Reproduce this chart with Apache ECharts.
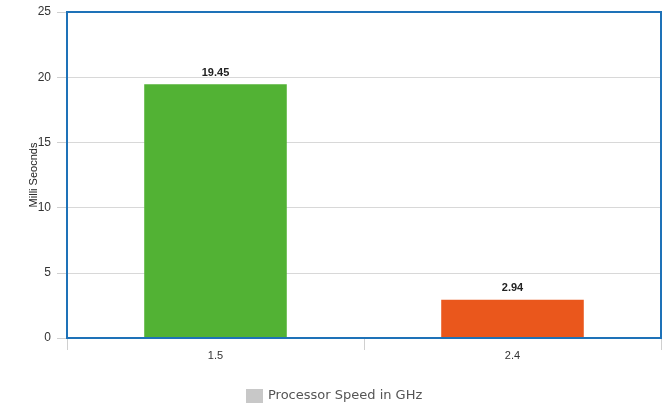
<!DOCTYPE html>
<html>
<head>
<meta charset="utf-8">
<script src="https://cdn.jsdelivr.net/npm/echarts@6/dist/echarts.min.js"></script>
<style>
  html, body { margin: 0; padding: 0; background: #fff; }
  #chart { width: 670px; height: 404px; }
</style>
</head>
<body>
<div id="chart"></div>
<script>
// Processor speed categories and measured times
const categories = ['1.5', '2.4'];
const timesMs = [19.45, 2.94];
const barColors = ['#52b234', '#ea571c'];
const seriesName = 'Processor Speed in GHz';
const yTicks = { min: 0, max: 25, interval: 5 };

const chart = echarts.init(document.getElementById('chart'), null, { renderer: 'canvas' });

chart.setOption({
  animation: false,
  textStyle: { fontFamily: 'Liberation Sans, Arial, sans-serif' },
  grid: {
    left: 67, right: 9, top: 12, bottom: 66,
    show: true,
    borderColor: '#1e72b8',
    borderWidth: 2,
    backgroundColor: 'transparent',
    z: 3
  },
  legend: {
    left: 241, top: 384,
    itemWidth: 17, itemHeight: 14,
    itemGap: 6,
    data: [{ name: seriesName, icon: 'rect', itemStyle: { color: '#c8c8c8' } }],
    textStyle: { fontSize: 13, color: '#555', fontFamily: 'DejaVu Sans, sans-serif' }
  },
  xAxis: {
    type: 'category',
    data: categories,
    axisLine: { show: false },
    axisTick: { show: true, length: 12, alignWithLabel: false, lineStyle: { color: '#d0d0d0' } },
    axisLabel: { color: '#333', fontSize: 11, margin: 12 },
    splitLine: { show: false }
  },
  yAxis: {
    type: 'value',
    min: yTicks.min, max: yTicks.max, interval: yTicks.interval,
    name: 'Milli Seocnds',
    nameLocation: 'middle',
    nameGap: 28,
    nameMoveOverlap: false,
    nameTextStyle: { fontSize: 11, color: '#222' },
    axisLine: { show: false },
    axisTick: { show: true, length: 10, lineStyle: { color: '#d0d0d0' } },
    axisLabel: { color: '#333', fontSize: 12, margin: 16 },
    splitLine: { show: true, showMinLine: false, showMaxLine: false, lineStyle: { color: '#d8d8d8', width: 1 } }
  },
  series: [{
    name: seriesName,
    type: 'bar',
    barWidth: '48%',
    data: timesMs.map((v, i) => ({ value: v, itemStyle: { color: barColors[i] } })),
    label: {
      show: true,
      position: 'top',
      distance: 6,
      fontWeight: 'bold',
      fontSize: 11,
      color: '#222',
      formatter: p => p.value.toFixed(2)
    }
  }]
});
</script>
</body>
</html>
